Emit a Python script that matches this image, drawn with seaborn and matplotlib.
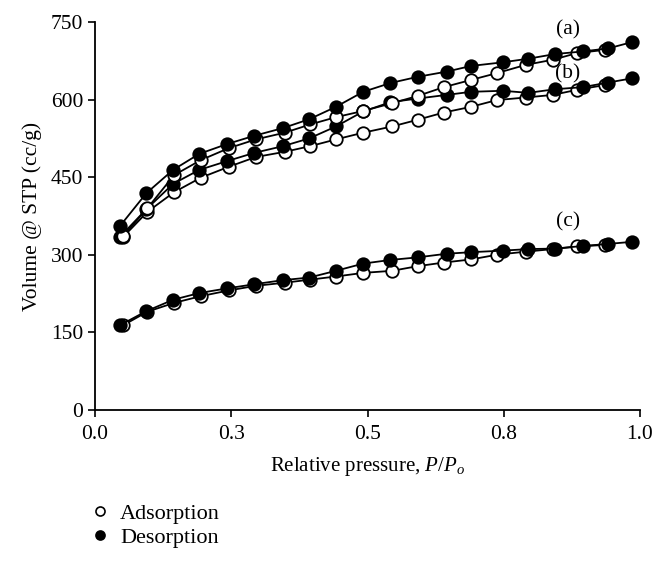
import matplotlib
matplotlib.use("Agg")
import matplotlib.pyplot as plt
from matplotlib.lines import Line2D
import seaborn as sns
import pandas as pd

# relative pressure points (adsorption and desorption branches are sampled a bit apart)
p_ads = [0.052, 0.096, 0.145, 0.194, 0.245, 0.295, 0.348, 0.395, 0.442, 0.492,
         0.545, 0.592, 0.640, 0.690, 0.737, 0.790, 0.840, 0.885, 0.935]
p_des = [0.046, 0.094, 0.143, 0.191, 0.242, 0.292, 0.345, 0.393, 0.442, 0.492,
         0.542, 0.592, 0.645, 0.690, 0.748, 0.795, 0.844, 0.895, 0.942, 0.985]

# volume adsorbed, cc/g
a_ads = [337, 390, 454, 483, 506, 523, 536, 552, 566, 578, 593, 607, 624, 638, 651, 667, 677, 690, 696]
a_des = [356, 419, 464, 495, 514, 530, 545, 562, 586, 615, 632, 644, 654, 665, 672, 679, 688, 693, 699, 711]
b_ads = [335, 383, 421, 449, 470, 489, 499, 510, 523, 536, 548, 561, 575, 586, 599, 604, 609, 619, 628]
b_des = [335, 388, 437, 464, 481, 497, 510, 525, 548, 577, 595, 602, 609, 615, 617, 613, 620, 624, 633, 641]
c_ads = [164, 190, 207, 220, 231, 240, 246, 252, 258, 265, 269, 278, 285, 291, 300, 306, 311, 316, 319]
c_des = [164, 191, 213, 226, 235, 243, 251, 256, 269, 283, 290, 295, 302, 305, 308, 311, 312, 317, 321, 325]

x_ticks = [0.0, 0.25, 0.5, 0.75, 1.0]
x_tick_labels = ["0.0", "0.3", "0.5", "0.8", "1.0"]
y_ticks = [0, 150, 300, 450, 600, 750]

sns.set_style("ticks")
plt.rcParams["font.family"] = ["Liberation Serif", "DejaVu Serif"]
plt.rcParams["mathtext.fontset"] = "custom"
plt.rcParams["mathtext.rm"] = "Liberation Serif"
plt.rcParams["mathtext.it"] = "Liberation Serif:italic"
for key in ["text.color", "axes.labelcolor", "xtick.color", "ytick.color"]:
    plt.rcParams[key] = "black"

fig = plt.figure(figsize=(6.65, 5.62), dpi=100)
ax = fig.add_axes([0.143, 0.2705, 0.8194, 0.6904])

# draw (c) first so (a) ends up on top; desorption on top of adsorption
series = [("c", c_ads, c_des), ("b", b_ads, b_des), ("a", a_ads, a_des)]
for name, ads, des in series:
    df_ads = pd.DataFrame({"P": p_ads, "V": ads})
    df_des = pd.DataFrame({"P": p_des, "V": des})
    sns.lineplot(data=df_ads, x="P", y="V", ax=ax, color="black", lw=1.3,
                 marker="o", markersize=9, markerfacecolor="white",
                 markeredgecolor="black", markeredgewidth=1.3, sort=False)
    sns.lineplot(data=df_des, x="P", y="V", ax=ax, color="black", lw=1.3,
                 marker="o", markersize=9, markerfacecolor="black",
                 markeredgecolor="black", markeredgewidth=1.3, sort=False)

ax.text(0.867, 735, "(a)", fontsize=15.5, ha="center", va="center")
ax.text(0.868, 650, "(b)", fontsize=15.5, ha="center", va="center")
ax.text(0.868, 363, "(c)", fontsize=15.5, ha="center", va="center")

ax.set_xlim(0, 1.0)
ax.set_ylim(0, 750)
ax.set_xticks(x_ticks)
ax.set_xticklabels(x_tick_labels)
ax.set_yticks(y_ticks)
ax.tick_params(axis="both", labelsize=15.5, length=5, width=1.2, direction="out")
ax.tick_params(axis="x", pad=6)
for s in ["left", "bottom"]:
    ax.spines[s].set_linewidth(1.3)
    ax.spines[s].set_color("black")
sns.despine(ax=ax)

ax.set_xlabel("Relative pressure, $P/P_o$", fontsize=15, labelpad=8)
ax.set_ylabel("Volume @ STP (cc/g)", fontsize=15.5, labelpad=6)

handles = [
    Line2D([], [], ls="none", marker="o", markersize=6.5, markerfacecolor="white",
           markeredgecolor="black", markeredgewidth=1.2, label="Adsorption"),
    Line2D([], [], ls="none", marker="o", markersize=6.5, markerfacecolor="black",
           markeredgecolor="black", markeredgewidth=1.2, label="Desorption"),
]
fig.legend(handles=handles, loc="upper left", bbox_to_anchor=(0.124, 0.12),
           frameon=False, fontsize=16, handlelength=0.8, handletextpad=0.5,
           labelspacing=0.15, borderaxespad=0)

fig.savefig("out.png", dpi=100)
